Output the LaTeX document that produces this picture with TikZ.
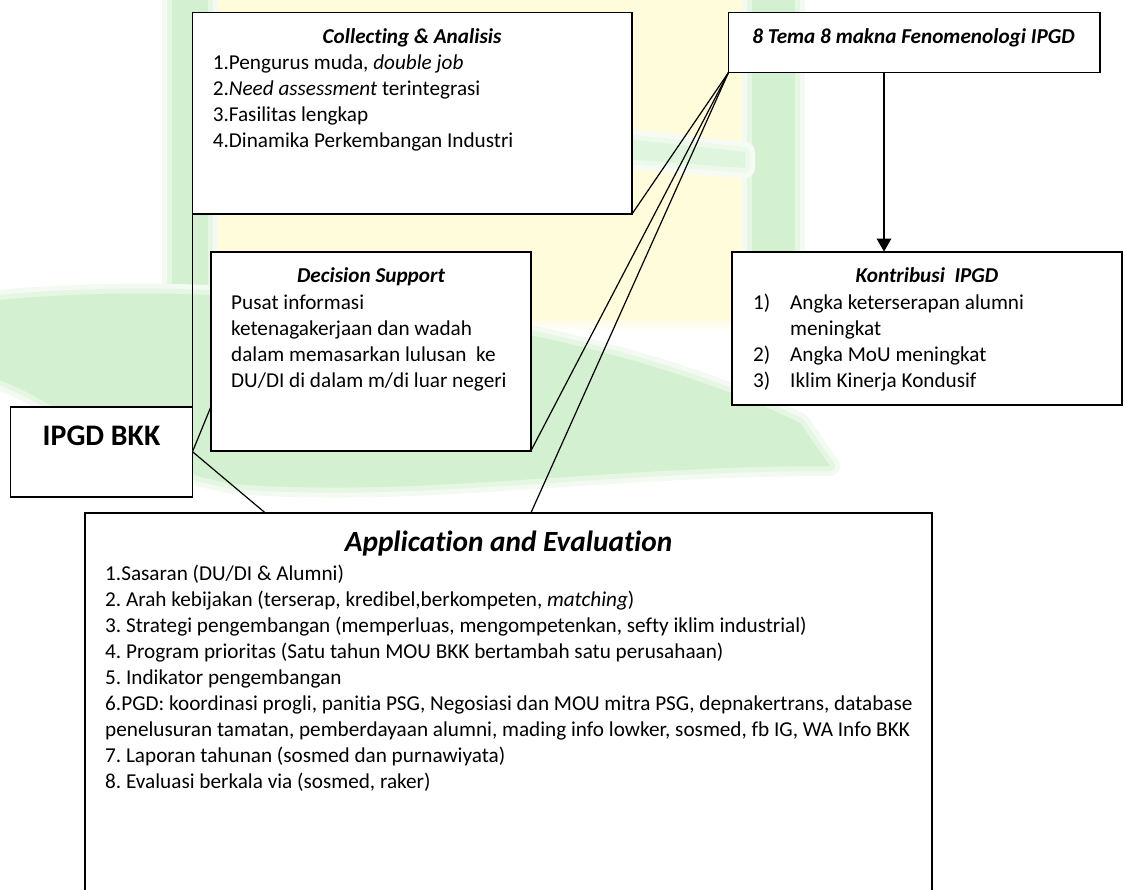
\documentclass[tikz,border=0pt]{standalone}
\usepackage{fontspec}
\setmainfont{Carlito}[Ligatures={NoCommon}]
\usetikzlibrary{arrows.meta,calc}
\frenchspacing

\definecolor{wmgreen}{HTML}{D3F0D0}
\definecolor{wmyellow}{HTML}{FFFCDC}

\newcommand{\bodysize}{\fontsize{21.2pt}{26pt}\selectfont}
\newcommand{\headsize}{\fontsize{29.3pt}{34pt}\selectfont}
\newcommand{\labelsize}{\fontsize{29.8pt}{34pt}\selectfont}

% a pale shape with a soft rim: #1 colour, #2 closed path
\newcommand{\paleshape}[2]{%
  \draw[line width=20pt, color=#1!30!white, line join=round] #2;
  \draw[line width=10pt, color=#1!60!white, line join=round] #2;
  \fill[#1] #2;
}

\tikzset{
  panel/.style={draw=black, line width=1.8pt, fill=white, rectangle,
                inner sep=0pt, outer sep=0pt, anchor=north west},
  ttl/.style={anchor=base, inner sep=0pt, font=\bodysize\bfseries\itshape},
  itm/.style={anchor=base west, inner sep=0pt, font=\bodysize},
  link/.style={draw=black, line width=1.2pt},
  flow/.style={draw=black, line width=2.6pt, -{Triangle[width=14pt,length=13pt]}},
}

\begin{document}
\begin{tikzpicture}[x=1pt, y=-1pt]
  \useasboundingbox (0,0) rectangle (1126,890);
  \clip (0,0) rectangle (1126,890);
  \fill[white] (0,0) rectangle (1126,890);

  % faded logo in the background
  \paleshape{wmyellow}{(200,-20) -- (745,-20) -- (745,320) -- (200,320) -- cycle}
  \paleshape{wmgreen}{(172,-20) -- (208,-20) -- (208,300) -- (172,300) -- cycle}
  \paleshape{wmgreen}{(752,-20) -- (795,-20) -- (795,265) -- (752,265) -- cycle}
  \paleshape{wmgreen!70!white}{(570,133) -- (745,152) -- (745,168) -- (570,155) -- cycle}
  \paleshape{wmgreen}{(-20,302) .. controls (250,272) and (600,325) .. (800,423)
                 -- (830,466) .. controls (600,466) and (420,498) .. (235,484)
                 .. controls (120,466) and (50,390) .. (-20,374) -- cycle}

  % boxes
  \node[panel, minimum width=439.5pt, minimum height=201.5pt] (col) at (192.5,12.5) {};
  \node[panel, minimum width=371.5pt, minimum height=60pt]    (tema) at (728.5,12.5) {};
  \node[panel, minimum width=390pt,   minimum height=153.5pt] (kon) at (732,251.7) {};
  \node[panel, minimum width=320pt,   minimum height=199pt]   (dec) at (211,251.7) {};
  \node[panel, minimum width=182pt,   minimum height=90pt]    (ipgd) at (10.5,406.7) {};
  \node[panel, minimum width=847pt,   minimum height=420pt]   (app) at (85,512.7) {};

  % connector end points on box sides
  \coordinate (decW) at ($(dec.south west)!0.222!(dec.north west)$);
  \coordinate (appL) at (265,512.7);
  \coordinate (appR) at (531,512.7);

  % connectors
  \draw[link] (col.south west) -- (ipgd.north east);
  \draw[link] (ipgd.east) -- (decW);
  \draw[link] (ipgd.east) -- (appL);
  \draw[link] (tema.south west) -- (col.south east);
  \draw[link] (tema.south west) -- (dec.south east);
  \draw[link] (tema.south west) -- (appR);
  \draw[flow] (tema.south -| 884,0) -- (kon.north -| 884,0);

  % Collecting & Analisis
  \node[ttl] (colT) at (412,44) {Collecting \& Analisis};
  \node[itm] (c1) at (212.6,70)  {1.Pengurus muda, \textit{double job}};
  \node[itm] (c2) at (212.6,96)  {2.\textit{Need assessment} terintegrasi};
  \node[itm] (c3) at (212.6,122) {3.Fasilitas lengkap};
  \node[itm] (c4) at (212.6,148) {4.Dinamika Perkembangan Industri};

  % 8 Tema
  \node[ttl] (temaT) at (913.5,44) {8 Tema 8 makna Fenomenologi IPGD};

  % Kontribusi IPGD
  \node[ttl] (konT) at (927,283) {Kontribusi\ \ IPGD};
  \node[itm] (k1n) at (753,309) {1)};
  \node[itm] (k1)  at (790,309) {Angka keterserapan alumni};
  \node[itm] (k1b) at (790,335) {meningkat};
  \node[itm] (k2n) at (753,361) {2)};
  \node[itm] (k2)  at (790,361) {Angka MoU meningkat};
  \node[itm] (k3n) at (753,387) {3)};
  \node[itm] (k3)  at (790,387) {Iklim Kinerja Kondusif};

  % Decision Support
  \node[ttl] (decT) at (371,283) {Decision Support};
  \node[itm] (d1) at (231,309) {Pusat informasi};
  \node[itm] (d2) at (231,335) {ketenagakerjaan dan wadah};
  \node[itm] (d3) at (231,361) {dalam memasarkan lulusan\ \ ke};
  \node[itm] (d4) at (231,387) {DU/DI di dalam m/di luar negeri};

  % IPGD BKK
  \node[anchor=base, inner sep=0pt, font=\labelsize\bfseries] (ipgdT) at (101.5,445.5) {IPGD BKK};

  % Application and Evaluation
  \node[anchor=base, inner sep=0pt, font=\headsize\bfseries\itshape] (appT) at (508.5,551) {Application and Evaluation};
  \node[itm] (a1) at (105,580) {1.Sasaran (DU/DI \& Alumni)};
  \node[itm] (a2) at (105,606) {2. Arah kebijakan (terserap, kredibel,berkompeten, \textit{matching})};
  \node[itm] (a3) at (105,632) {3. Strategi pengembangan (memperluas, mengompetenkan, sefty iklim industrial)};
  \node[itm] (a4) at (105,658) {4. Program prioritas (Satu tahun MOU BKK bertambah satu perusahaan)};
  \node[itm] (a5) at (105,684) {5. Indikator pengembangan};
  \node[itm] (a6) at (105,710) {6.PGD: koordinasi progli, panitia PSG, Negosiasi dan MOU mitra PSG, depnakertrans, database};
  \node[itm] (a6b) at (105,736) {penelusuran tamatan, pemberdayaan alumni, mading info lowker, sosmed, fb IG, WA Info BKK};
  \node[itm] (a7) at (105,762) {7. Laporan tahunan (sosmed dan purnawiyata)};
  \node[itm] (a8) at (105,788) {8. Evaluasi berkala via (sosmed, raker)};
\end{tikzpicture}
\end{document}
